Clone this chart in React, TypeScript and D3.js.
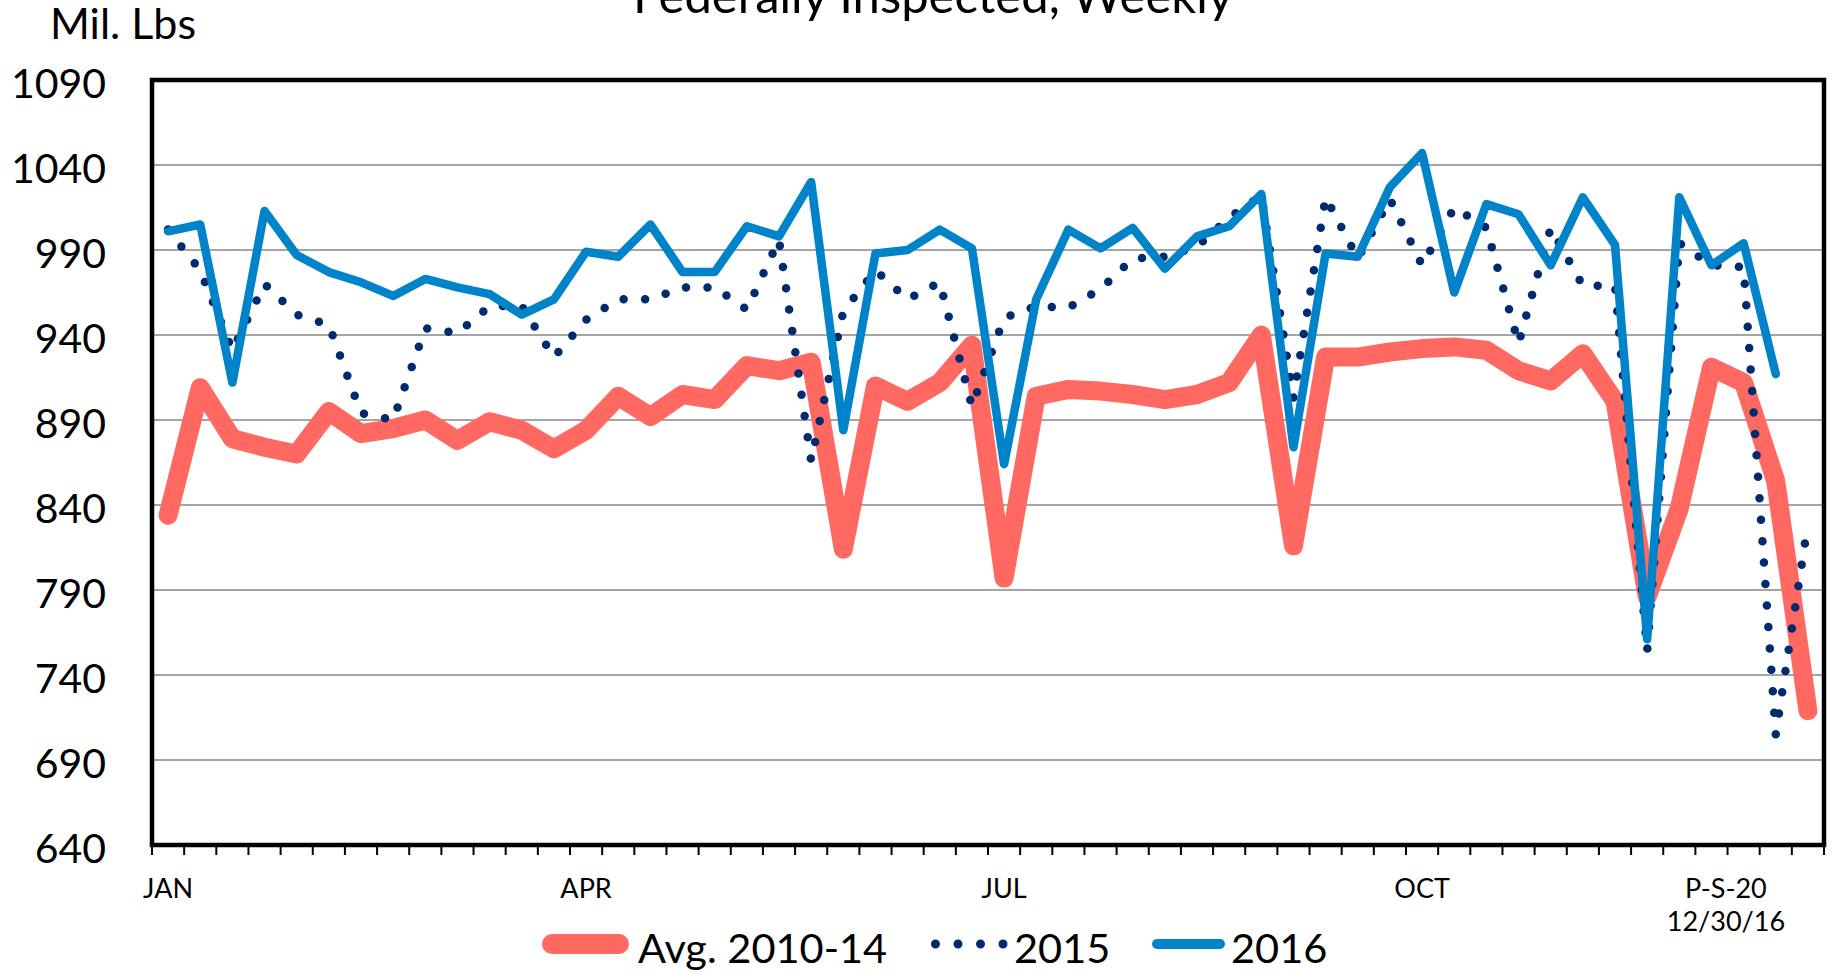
import React from 'react';
import * as d3 from 'd3';

// weekly categories, Jan .. Dec
const weeks = d3.range(1, 53);

// Avg. 2010-14, mil. lbs
const avg1014 = [
  834, 909, 879, 874, 870, 895, 882, 885, 890, 878, 889, 884, 873,
  884, 904, 892, 905, 902, 922, 919, 924, 814, 910, 901, 912, 934,
  797, 904, 908, 907, 905, 902, 905, 912, 940, 816, 927, 927, 930,
  932, 933, 931, 919, 913, 929, 901, 786, 838, 921, 912, 854, 719,
];

const y2015 = [
  1002, 978, 931, 970, 952, 946, 894, 890, 944, 941, 957, 957, 927,
  949, 961, 961, 968, 968, 955, 996, 866, 954, 978, 961, 971, 898,
  950, 957, 956, 967, 985, 986, 992, 1009, 1022, 903, 1021, 985, 1020,
  981, 1015, 1003, 935, 1003, 969, 969, 754, 994, 981, 980, 705, 829,
];

// 2016 runs through week 51
const y2016 = [
  1001, 1005, 912, 1013, 987, 977, 971, 963, 973, 968, 964, 952, 961,
  989, 986, 1005, 977, 977, 1004, 998, 1030, 884, 988, 990, 1002, 991,
  864, 961, 1002, 991, 1003, 979, 998, 1004, 1023, 874, 988, 986, 1027,
  1047, 965, 1017, 1011, 981, 1021, 993, 761, 1021, 981, 994, 917,
];

const yTicks = [640, 690, 740, 790, 840, 890, 940, 990, 1040, 1090];

// month labels: position in weeks from the left edge
const xLabels = [
  { text: 'JAN', at: 0.5 },
  { text: 'APR', at: 13.5 },
  { text: 'JUL', at: 26.5 },
  { text: 'OCT', at: 39.5 },
];
const lastLabel = ['P-S-20', '12/30/16'];

const W = 1836;
const H = 972;
const FONT = 'Lato, "Open Sans", sans-serif';

const App = () => {
  const left = 152, right = 1824, top = 80, bottom = 845;

  const x = d3.scaleLinear().domain([0, weeks.length]).range([left, right]);
  const y = d3.scaleLinear().domain([640, 1090]).range([bottom, top]);
  const cx = (i: number) => x(i + 0.5);

  const line = d3.line<number>()
    .x((_, i) => cx(i))
    .y(d => y(d));

  const red = '#FF6961';
  const blue = '#0083C9';
  const navy = '#002B6E';

  return (
    <svg width={W} height={H} style={{ position: 'absolute', left: 0, top: 0, display: 'block', background: '#fff' }}
      fontFamily={FONT}>
      <text x={933} y={13} textAnchor="middle" fontSize={49} fill="#000">Federally Inspected, Weekly</text>
      <text x={50} y={39} fontSize={43} fill="#000">Mil. Lbs</text>

      {/* gridlines */}
      {yTicks.map(t => (
        <line key={t} x1={left} x2={right} y1={y(t)} y2={y(t)} stroke="#A5A5A5" strokeWidth={2} />
      ))}
      {yTicks.map(t => (
        <text key={'l' + t} x={106} y={y(t) + 18} textAnchor="end" fontSize={41} fill="#000">{t}</text>
      ))}

      {/* series */}
      <path d={line(avg1014) || ''} fill="none" stroke={red} strokeWidth={19}
        strokeLinejoin="round" strokeLinecap="round" />
      <path d={line(y2015) || ''} fill="none" stroke={navy} strokeWidth={8.5}
        strokeDasharray="0 21.5" strokeLinecap="round" />
      <path d={line(y2016) || ''} fill="none" stroke={blue} strokeWidth={8.5}
        strokeLinejoin="round" strokeLinecap="round" />

      {/* frame */}
      <rect x={left} y={top} width={right - left} height={bottom - top} fill="none" stroke="#000" strokeWidth={4.5} />

      {/* x ticks */}
      {d3.range(weeks.length + 1).map(i => (
        <line key={'t' + i} x1={x(i)} x2={x(i)} y1={bottom} y2={bottom + 10} stroke="#000" strokeWidth={2} />
      ))}
      {xLabels.map(l => (
        <text key={l.text} x={x(l.at)} y={898} textAnchor="middle" fontSize={27} fill="#000">{l.text}</text>
      ))}
      <text x={x(48.95)} y={898} textAnchor="middle" fontSize={27} fill="#000">{lastLabel[0]}</text>
      <text x={x(48.95)} y={931} textAnchor="middle" fontSize={27} fill="#000">{lastLabel[1]}</text>

      {/* legend */}
      <line x1={552} x2={619} y1={944} y2={944} stroke={red} strokeWidth={20} strokeLinecap="round" />
      <text x={638} y={963} fontSize={41.5} fill="#000">Avg. 2010-14</text>
      <line x1={935.5} x2={1004} y1={944} y2={944} stroke={navy} strokeWidth={9}
        strokeDasharray="0 22.5" strokeLinecap="round" />
      <text x={1014} y={963} fontSize={41.5} fill="#000">2015</text>
      <line x1={1157} x2={1220} y1={944} y2={944} stroke={blue} strokeWidth={10} strokeLinecap="round" />
      <text x={1231} y={963} fontSize={41.5} fill="#000">2016</text>
    </svg>
  );
};

export default App;
